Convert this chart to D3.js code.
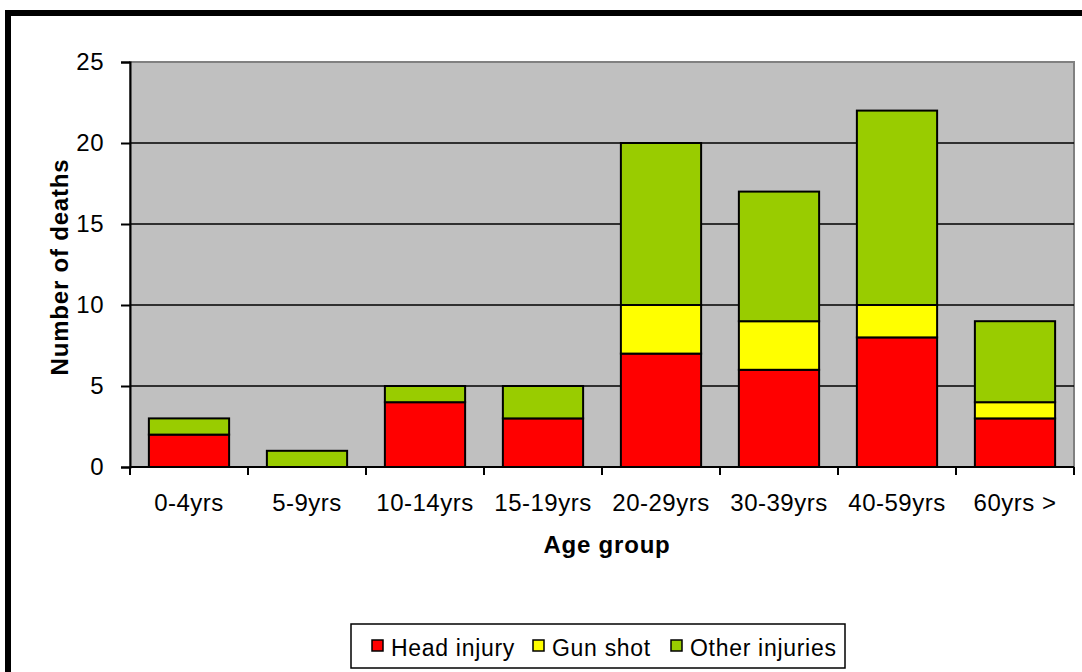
<!DOCTYPE html>
<html><head><meta charset="utf-8">
<script src="https://cdn.jsdelivr.net/npm/d3@7"></script>
<style>body{margin:0;background:#fff}svg{display:block;font-family:"Liberation Sans",Arial,sans-serif}</style>
</head><body>
<svg id="c" width="1082" height="672"></svg>
<script>
const categories = ["0-4yrs","5-9yrs","10-14yrs","15-19yrs","20-29yrs","30-39yrs","40-59yrs","60yrs >"];
const headInjury = [2,0,4,3,7,6,8,3];
const gunShot = [0,0,0,0,3,3,2,1];
const otherInjuries = [1,1,1,2,10,8,12,5];
const seriesNames = ["Head injury","Gun shot","Other injuries"];
const seriesColors = ["#FF0000","#FFFF00","#99CC00"];
const yTicks = [0,5,10,15,20,25];

const svg = d3.select("#c");
svg.append("rect").attr("x",8).attr("y",13).attr("width",1090).attr("height",680)
  .attr("fill","none").attr("stroke","#000").attr("stroke-width",6);

const L=130,R=1074,T=62,B=467;
const x = d3.scaleBand().domain(categories).range([L,R]).paddingInner(0.32).paddingOuter(0.16);
const y = d3.scaleLinear().domain([0,25]).range([B,T]);

svg.append("rect").attr("x",L).attr("y",T).attr("width",R-L).attr("height",B-T)
  .attr("fill","#C0C0C0").attr("stroke","#808080").attr("stroke-width",2);

svg.append("g").selectAll("line").data(yTicks.filter(d=>d>0&&d<25)).join("line")
  .attr("x1",L).attr("x2",R).attr("y1",d=>y(d)).attr("y2",d=>y(d))
  .attr("stroke","#000").attr("stroke-width",1.5);

const rows = categories.map((c,i)=>({cat:c,"Head injury":headInjury[i],"Gun shot":gunShot[i],"Other injuries":otherInjuries[i]}));
const stack = d3.stack().keys(seriesNames)(rows);
svg.append("g").selectAll("g").data(stack).join("g")
  .attr("fill",(d,i)=>seriesColors[i])
  .selectAll("rect").data(d=>d.filter(s=>s[1]-s[0]>0)).join("rect")
  .attr("x",d=>x(d.data.cat)).attr("width",x.bandwidth())
  .attr("y",d=>y(d[1])).attr("height",d=>y(d[0])-y(d[1]))
  .attr("stroke","#000").attr("stroke-width",2);

const FS = 24;
const yAxis = svg.append("g").attr("transform",`translate(${L},0)`)
  .call(d3.axisLeft(y).tickValues(yTicks).tickSize(9).tickPadding(17));
yAxis.attr("font-size",FS).attr("font-family",null);
yAxis.select(".domain").attr("stroke-width",2);
yAxis.selectAll(".tick line").attr("stroke-width",2);
yAxis.selectAll("text").attr("fill","#000").style("letter-spacing","0.5px");

const xAxisG = svg.append("g");
xAxisG.append("line").attr("x1",L).attr("x2",R).attr("y1",B).attr("y2",B).attr("stroke","#000").attr("stroke-width",2);
xAxisG.selectAll("line.t").data(d3.range(categories.length+1)).join("line").attr("class","t")
  .attr("x1",i=>L+i*(R-L)/categories.length).attr("x2",i=>L+i*(R-L)/categories.length)
  .attr("y1",B).attr("y2",B+8).attr("stroke","#000").attr("stroke-width",2);
xAxisG.selectAll("text").data(categories).join("text")
  .attr("x",d=>x(d)+x.bandwidth()/2).attr("y",511).attr("text-anchor","middle")
  .attr("font-size",FS).style("letter-spacing","0.5px").text(d=>d);

svg.append("text").attr("x",607).attr("y",553).attr("text-anchor","middle")
  .attr("font-size",FS).attr("font-weight","bold").style("letter-spacing","0.8px").text("Age group");
svg.append("text").attr("transform","translate(68,267) rotate(-90)").attr("text-anchor","middle")
  .attr("font-size",FS).attr("font-weight","bold").style("letter-spacing","0.8px").text("Number of deaths");

const lg = svg.append("g");
lg.append("rect").attr("x",351).attr("y",624).attr("width",494).attr("height",44)
  .attr("fill","#fff").attr("stroke","#000").attr("stroke-width",1.5);
const legX = [372,533,671];
seriesNames.forEach((n,i)=>{
  lg.append("rect").attr("x",legX[i]).attr("y",640).attr("width",11).attr("height",11)
    .attr("fill",seriesColors[i]).attr("stroke","#000").attr("stroke-width",1.5);
  lg.append("text").attr("x",legX[i]+19).attr("y",656).attr("font-size",FS-1).style("letter-spacing","0.7px").text(n);
});
</script>
</body></html>
